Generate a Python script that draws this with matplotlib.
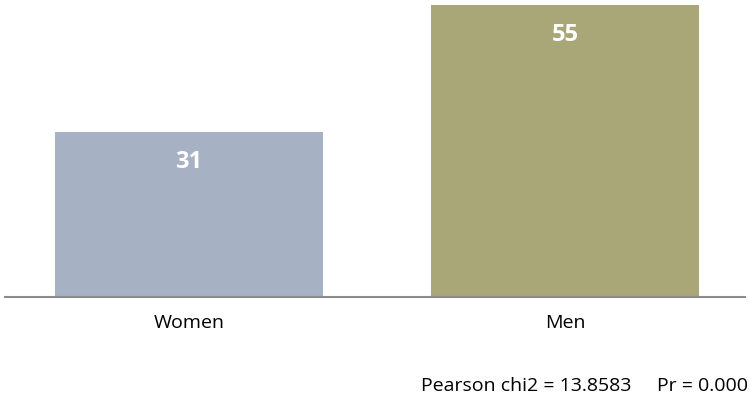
import matplotlib.pyplot as plt

plt.rcParams['font.family'] = ['Open Sans', 'DejaVu Sans']

# data
groups = ['Women', 'Men']
values = [31, 55]
colors = ['#a7b1c4', '#a9a777']
note = 'Pearson chi2 = 13.8583     Pr = 0.000'

fig = plt.figure(figsize=(7.5, 4), dpi=100)
ax = fig.add_axes([5 / 750, 1 - 297 / 400, 740 / 750, 292 / 400])

x = range(len(groups))
bars = ax.bar(x, values, width=0.713, color=colors)
ax.set_xlim(-0.489, 1.479)
ax.set_ylim(0, 55)

for b, v in zip(bars, values):
    ax.text(b.get_x() + b.get_width() / 2, v - 5.6, str(v), ha='center', va='center',
            color='white', fontsize=17, fontweight='bold')

ax.set_xticks(list(x))
ax.set_xticklabels(groups, fontsize=14)
ax.tick_params(axis='x', length=0, pad=12)
ax.set_yticks([])
for s in ['top', 'right', 'left']:
    ax.spines[s].set_visible(False)
ax.spines['bottom'].set_color('#8c8c8c')
ax.spines['bottom'].set_linewidth(1.5)

fig.text(748 / 750, 1 - 386 / 400, note, ha='right', va='center', fontsize=14)

fig.savefig('out.png', dpi=100)
